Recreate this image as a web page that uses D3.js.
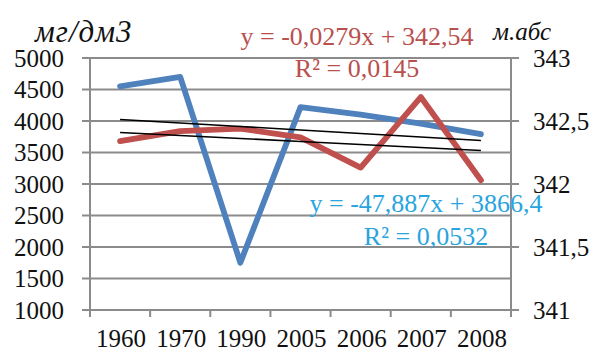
<!DOCTYPE html>
<html>
<head>
<meta charset="utf-8">
<script src="https://cdn.jsdelivr.net/npm/d3@7"></script>
<style>
  html, body { margin: 0; padding: 0; background: #fff; }
  svg { display: block; }
  text { font-family: "Liberation Serif", "Times New Roman", serif; }
</style>
</head>
<body>
<svg id="chart" width="595" height="351"></svg>
<script>
// Observation years (categories on the x axis)
const years = ["1960", "1970", "1990", "2005", "2006", "2007", "2008"];

// Mineralisation, mg/dm3 (left axis)
const mineralisation = [4550, 4700, 1750, 4220, 4100, 3960, 3790];

// Water level, m abs. (right axis)
const waterLevel = [342.34, 342.42, 342.44, 342.37, 342.13, 342.69, 342.03];

// Linear trend coefficients (x = 1..n)
const mineralTrend = [-47.887, 3866.4];   // slope, intercept
const levelTrend = [-0.0279, 342.54];     // slope, intercept

// Axis ticks
const leftTicks = [1000, 1500, 2000, 2500, 3000, 3500, 4000, 4500, 5000];
const rightTicks = [341, 341.5, 342, 342.5, 343];

// Texts
const leftUnit = "мг/дм3";
const rightUnit = "м.абс";
const mineralEq = ["y = -47,887x + 3866,4", "R² = 0,0532"];
const levelEq = ["y = -0,0279x + 342,54", "R² = 0,0145"];

const svg = d3.select("#chart");
const plot = { left: 90, right: 511, top: 58, bottom: 310 };

const x = d3.scalePoint().domain(years).range([plot.left, plot.right]).padding(0.5);
const step = x.step();
const yL = d3.scaleLinear().domain([1000, 5000]).range([plot.bottom, plot.top]);
const yR = d3.scaleLinear().domain([341, 343]).range([plot.bottom, plot.top]);

const fmt = v => String(v).replace(".", ",");
const gridColor = "#8b8b8b";

// Horizontal gridlines with left tick marks
svg.append("g").selectAll("line").data(leftTicks).join("line")
  .attr("x1", plot.left - 8).attr("x2", plot.right)
  .attr("y1", d => yL(d)).attr("y2", d => yL(d))
  .attr("stroke", gridColor).attr("stroke-width", 2);

// Right tick marks
svg.append("g").selectAll("line").data(rightTicks).join("line")
  .attr("x1", plot.right).attr("x2", plot.right + 8)
  .attr("y1", d => yR(d)).attr("y2", d => yR(d))
  .attr("stroke", gridColor).attr("stroke-width", 2);

// Vertical axis lines
[plot.left, plot.right].forEach(px => {
  svg.append("line")
    .attr("x1", px).attr("x2", px)
    .attr("y1", plot.top - 1).attr("y2", plot.bottom + 7)
    .attr("stroke", gridColor).attr("stroke-width", 2);
});

// Category boundary ticks on the x axis
const bounds = d3.range(years.length + 1).map(i => plot.left + i * step);
svg.append("g").selectAll("line").data(bounds).join("line")
  .attr("x1", d => d).attr("x2", d => d)
  .attr("y1", plot.bottom).attr("y2", plot.bottom + 7)
  .attr("stroke", gridColor).attr("stroke-width", 2);

// Left tick labels
svg.append("g").selectAll("text").data(leftTicks).join("text")
  .attr("x", 64).attr("y", d => yL(d) + 8.5)
  .attr("text-anchor", "end").attr("font-size", 25).attr("fill", "#111")
  .text(d => d);

// Right tick labels
svg.append("g").selectAll("text").data(rightTicks).join("text")
  .attr("x", 533).attr("y", d => yR(d) + 8.5)
  .attr("text-anchor", "start").attr("font-size", 25).attr("fill", "#111")
  .text(fmt);

// Category labels
svg.append("g").selectAll("text").data(years).join("text")
  .attr("x", d => x(d) + 1).attr("y", 347)
  .attr("text-anchor", "middle").attr("font-size", 25).attr("fill", "#111")
  .text(d => d);

// Axis units
svg.append("text").attr("x", 35).attr("y", 42)
  .attr("font-size", 31).attr("font-style", "italic").attr("letter-spacing", 1)
  .attr("fill", "#111")
  .text(leftUnit);
svg.append("text").attr("x", 493).attr("y", 40)
  .attr("font-size", 25).attr("font-style", "italic").attr("fill", "#111")
  .text(rightUnit);

// Data series
const lineL = d3.line().x((d, i) => x(years[i])).y(d => yL(d));
const lineR = d3.line().x((d, i) => x(years[i])).y(d => yR(d));

svg.append("path").datum(mineralisation)
  .attr("d", lineL).attr("fill", "none")
  .attr("stroke", "#4f81bd").attr("stroke-width", 5.8)
  .attr("stroke-linejoin", "round").attr("stroke-linecap", "round");

svg.append("path").datum(waterLevel)
  .attr("d", lineR).attr("fill", "none")
  .attr("stroke", "#c0504d").attr("stroke-width", 5.8)
  .attr("stroke-linejoin", "round").attr("stroke-linecap", "round");

// Trend lines
const idx = d3.range(1, years.length + 1);
const trend = (coef, scale) => idx.map(n => [x(years[n - 1]), scale(coef[0] * n + coef[1])]);
[[levelTrend, yR], [mineralTrend, yL]].forEach(([coef, scale]) => {
  svg.append("path").datum(trend(coef, scale))
    .attr("d", d3.line()).attr("fill", "none")
    .attr("stroke", "#000").attr("stroke-width", 1.6);
});

// Trend equations
svg.append("g").selectAll("text").data(levelEq).join("text")
  .attr("x", 357).attr("y", (d, i) => 45 + i * 32)
  .attr("text-anchor", "middle").attr("font-size", 26).attr("fill", "#b9504d")
  .text(d => d);

svg.append("g").selectAll("text").data(mineralEq).join("text")
  .attr("x", 426).attr("y", (d, i) => 212 + i * 33)
  .attr("text-anchor", "middle").attr("font-size", 26).attr("fill", "#2aa4de")
  .text(d => d);
</script>
</body>
</html>
